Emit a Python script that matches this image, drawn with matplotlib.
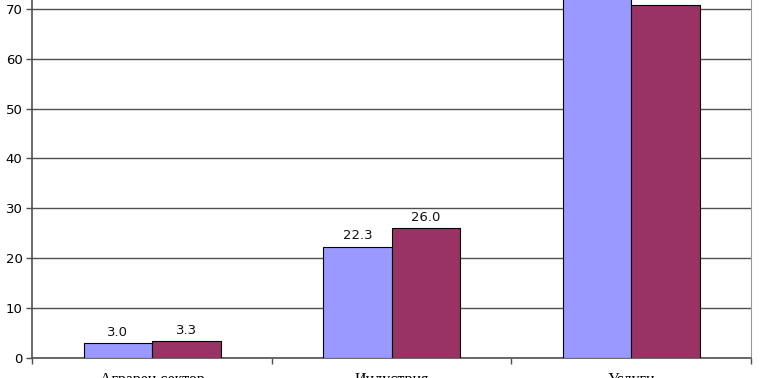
import matplotlib
matplotlib.use("Agg")
import matplotlib.pyplot as plt
import numpy as np

categories = ["Аграрен сектор", "Индустрия", "Услуги"]
series_a = [3.0, 22.3, 74.7]
series_b = [3.3, 26.0, 70.7]
yticks = [0, 10, 20, 30, 40, 50, 60, 70]

W, H = 768, 378
fig = plt.figure(figsize=(W / 100, H / 100), dpi=100)
left = 32.3 / W
right = 751 / W
bottom = (H - 357.7) / H
ax = fig.add_axes([left, bottom, right - left, 1 - bottom])
ytop = 71.8

x = np.arange(len(categories))
bw = 1 / 3.5
ax.bar(x - bw / 2, series_a, bw, color="#9999FF", edgecolor="black", linewidth=0.8, zorder=3)
ax.bar(x + bw / 2, series_b, bw, color="#993366", edgecolor="black", linewidth=0.8, zorder=3)

for xs, vals in ((x - bw / 2, series_a), (x + bw / 2, series_b)):
    for xi, v in zip(xs, vals):
        if v + 4 > ytop:
            continue  # label lies beyond the visible top of the chart
        ax.annotate(f"{v:.1f}", (xi, v), xytext=(0, 3), textcoords="offset points",
                    ha="center", va="bottom", fontsize=9.5, family="DejaVu Sans",
                    color="#111111", zorder=4)

ax.set_xlim(-0.5, len(categories) - 0.5)
ax.set_ylim(0, ytop)
ax.set_yticks(yticks)
ax.set_yticklabels([str(t) for t in yticks], fontsize=9.5, family="DejaVu Sans")
ax.yaxis.grid(True, color="#505050", linewidth=1.0, zorder=0)
ax.tick_params(axis="y", length=4, width=1, color="#505050", pad=3)

ax.set_xticks(np.arange(len(categories) + 1) - 0.5)
ax.set_xticklabels([])
ax.set_xticks(x, minor=True)
ax.set_xticklabels(categories, minor=True, fontsize=11.5, family="Liberation Serif")
ax.tick_params(axis="x", which="major", length=4, width=1, color="#505050")
ax.tick_params(axis="x", which="minor", length=0, pad=10.5)

for s in ("left", "bottom"):
    ax.spines[s].set_color("#505050")
    ax.spines[s].set_linewidth(1.2)
ax.spines["right"].set_color("#999999")
ax.spines["top"].set_visible(False)
ax.set_axisbelow(True)

fig.savefig("out.png", dpi=100)
